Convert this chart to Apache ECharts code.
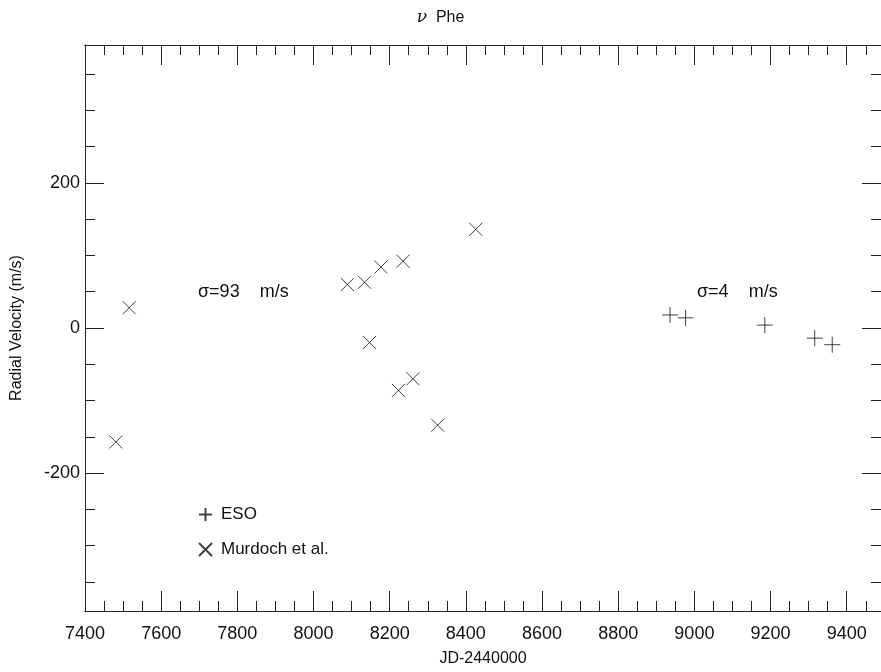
<!DOCTYPE html>
<html>
<head>
<meta charset="UTF-8">
<title>nu Phe</title>
<script src="https://cdn.jsdelivr.net/npm/echarts@6/dist/echarts.min.js"></script>
<style>
  html, body { margin: 0; padding: 0; background: #fff; }
  #main { width: 881px; height: 672px; }
</style>
</head>
<body>
<div id="main"></div>
<script>
// ESO points [JD-2440000, RV m/s]
const esoJD = [8936, 8977, 9185, 9316, 9362]
const esoRV = [18, 14, 4, -14, -23]
// Murdoch et al. points
const murJD = [7481, 7516, 8089, 8134, 8147, 8177, 8223, 8235, 8261, 8326, 8426]
const murRV = [-157, 28, 60, 63, -20, 84, -86, 92, -70, -134, 136]

const xMajor = [7400, 7600, 7800, 8000, 8200, 8400, 8600, 8800, 9000, 9200, 9400]
const yMajor = [-200, 0, 200]
const xMin = 7400, xMax = 9490
const yMin = -390, yMax = 390

let xMinor = []
for (let v = 7450; v < xMax; v += 50) if (v % 200 != 0) xMinor.push(v)
let yMinor = []
for (let v = -350; v < yMax; v += 50) if (v % 200 != 0) yMinor.push(v)

const txt = '#111'
const font = '"Liberation Sans", Arial, sans-serif'
const line = { show: true, onZero: false, lineStyle: { color: '#222', width: 1 } }

function pair(xs, ys) {
  return xs.map((x, i) => [x, ys[i]])
}

function xAx(pos, vals, len, labels) {
  return {
    type: 'value', position: pos, min: xMin, max: xMax,
    axisLine: line,
    splitLine: { show: false },
    axisTick: { show: true, inside: true, length: len, customValues: vals, lineStyle: { color: '#222' } },
    axisLabel: labels ? { show: true, customValues: vals, formatter: v => String(v), color: txt, fontSize: 18, fontFamily: font, margin: 14 } : { show: false },
    name: labels ? 'JD-2440000' : '',
    nameLocation: 'middle', nameGap: 40,
    nameTextStyle: { color: txt, fontSize: 16, fontFamily: font }
  }
}
function yAx(pos, vals, len, labels) {
  return {
    type: 'value', position: pos, min: yMin, max: yMax,
    axisLine: line,
    splitLine: { show: false },
    axisTick: { show: true, inside: true, length: len, customValues: vals, lineStyle: { color: '#222' } },
    axisLabel: labels ? { show: true, customValues: vals, formatter: v => String(v), color: txt, fontSize: 18, fontFamily: font, margin: 5 } : { show: false },
    name: labels ? 'Radial Velocity (m/s)' : '',
    nameLocation: 'middle', nameGap: 60,
    nameTextStyle: { color: txt, fontSize: 16, fontFamily: font }
  }
}

const crossX = 'path://M0,0L10,10M10,0L0,10'
const plus = 'path://M5,0L5,10M0,5L10,5'

let chart = echarts.init(document.getElementById('main'))
chart.setOption({
  animation: false,
  backgroundColor: '#fff',
  title: {
    text: '{g|ν}  Phe', left: 'center', top: 4,
    textStyle: {
      color: txt, fontSize: 16, fontWeight: 'normal', fontFamily: font,
      rich: { g: { fontStyle: 'italic', fontSize: 17, fontFamily: '"DejaVu Serif", serif', color: txt } }
    }
  },
  grid: { left: 85, top: 45, right: 0, bottom: 59 },
  xAxis: [
    xAx('bottom', xMajor, 20, true),
    xAx('bottom', xMinor, 10, false),
    xAx('top', xMajor, 20, false),
    xAx('top', xMinor, 10, false)
  ],
  yAxis: [
    yAx('left', yMajor, 19, true),
    yAx('left', yMinor, 10, false),
    yAx('right', yMajor, 19, false),
    yAx('right', yMinor, 10, false)
  ],
  legend: {
    orient: 'vertical', left: 193, top: 501, itemGap: 18,
    itemWidth: 13, itemHeight: 13,
    textStyle: { color: txt, fontSize: 17, fontFamily: font, padding: [0, 0, 0, 4] },
    data: ['ESO', 'Murdoch et al.']
  },
  series: [
    {
      name: 'ESO', type: 'scatter', symbol: plus, symbolSize: 16,
      itemStyle: { color: 'transparent', borderColor: '#111', borderWidth: 1 },
      data: pair(esoJD, esoRV)
    },
    {
      name: 'Murdoch et al.', type: 'scatter', symbol: crossX, symbolSize: 13,
      itemStyle: { color: 'transparent', borderColor: '#111', borderWidth: 1 },
      data: pair(murJD, murRV)
    }
  ],
  graphic: [
    { type: 'text', left: 198, top: 283, style: { text: 'σ=93    m/s', fill: txt, font: '18px ' + font } },
    { type: 'text', left: 697, top: 283, style: { text: 'σ=4    m/s', fill: txt, font: '18px ' + font } }
  ]
})
</script>
</body>
</html>
